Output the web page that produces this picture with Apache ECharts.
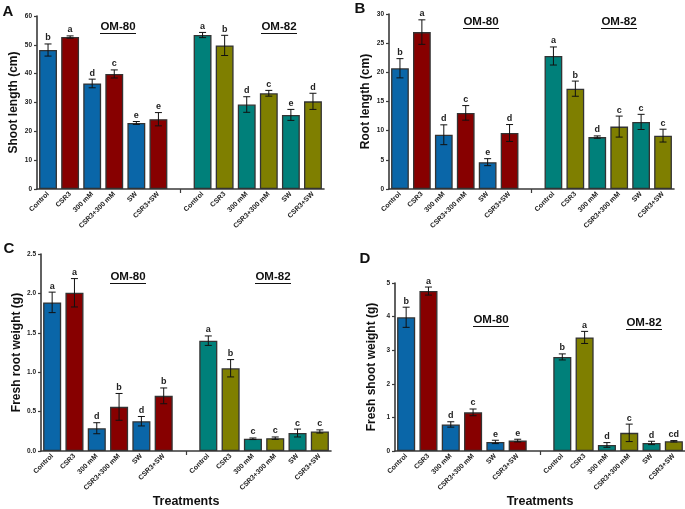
<!DOCTYPE html>
<html><head><meta charset="utf-8">
<script src="https://cdn.jsdelivr.net/npm/echarts@6/dist/echarts.min.js"></script>
<style>html,body{margin:0;padding:0;background:#fff}#c{width:685px;height:509px}</style>
</head><body><div id="c"></div>
<script>
// ---- data ----
var categories = ['Control','CSR3','300 mM','CSR3+300 mM','SW','CSR3+SW','','Control','CSR3','300 mM','CSR3+300 mM','SW','CSR3+SW'];
var shootLen     = [48.2, 52.7, 36.6, 39.9, 22.9, 24.2, null, 53.4, 49.8, 29.3, 33.2, 25.7, 30.4];
var shootLenErr  = [2.1, 0.4, 1.5, 1.4, 0.5, 2.3, null, 0.9, 3.5, 2.7, 1.0, 1.9, 2.8];
var shootLenLet  = ['b','a','d','c','e','e','', 'a','b','d','c','e','d'];
var rootLen      = [20.7, 26.9, 9.3, 13.05, 4.6, 9.6, null, 22.8, 17.2, 8.9, 10.7, 11.5, 9.15];
var rootLenErr   = [1.65, 2.1, 1.7, 1.25, 0.6, 1.45, null, 1.55, 1.3, 0.2, 1.8, 1.3, 1.1];
var rootLenLet   = ['b','a','d','c','e','d','', 'a','b','d','c','c','c'];
var rootWt       = [1.886, 2.008, 0.289, 0.56, 0.378, 0.70, null, 1.40, 1.05, 0.155, 0.163, 0.228, 0.248];
var rootWtErr    = [0.13, 0.18, 0.07, 0.17, 0.06, 0.10, null, 0.06, 0.11, 0.01, 0.015, 0.05, 0.02];
var rootWtLet    = ['a','a','d','b','d','b','', 'a','b','c','c','c','c'];
var shootWt      = [3.98, 4.76, 0.79, 1.15, 0.27, 0.31, null, 2.80, 3.38, 0.18, 0.54, 0.24, 0.29];
var shootWtErr   = [0.30, 0.12, 0.08, 0.10, 0.05, 0.04, null, 0.09, 0.18, 0.07, 0.26, 0.05, 0.02];
var shootWtLet   = ['b','a','d','c','e','e','', 'b','a','d','c','d','cd'];
var groupTitles  = ['OM-80','OM-82'];
var panelLetters = ['A','B','C','D'];
var yNames       = ['Shoot length (cm)','Root length (cm)','Fresh root weight (g)','Fresh shoot weight (g)'];
var xName        = 'Treatments';

// ---- style ----
var barColors = ['#0a66a8','#870000','#0a66a8','#870000','#0a66a8','#870000','#fff','#00807a','#7f7f00','#00807a','#7f7f00','#00807a','#7f7f00'];
var FONT = '"Liberation Sans", Arial, sans-serif';
var AX = '#3a3a3a';

var panels = [
  {vals: shootLen, errs: shootLenErr, lets: shootLenLet, max: 60, interval: 10, dec: 0,
   grid: {left: 37, right: 685-324, top: 16, bottom: 509-189}, nameGap: 17, showX: false},
  {vals: rootLen, errs: rootLenErr, lets: rootLenLet, max: 30, interval: 5, dec: 0,
   grid: {left: 389, right: 685-674, top: 14, bottom: 509-189}, nameGap: 17, showX: false},
  {vals: rootWt, errs: rootWtErr, lets: rootWtLet, max: 2.5, interval: 0.5, dec: 1,
   grid: {left: 41, right: 685-331, top: 254, bottom: 509-459}, nameGap: 18, showX: true},
  {vals: shootWt, errs: shootWtErr, lets: shootWtLet, max: 5, interval: 1, dec: 0,
   grid: {left: 395, right: 0, top: 283, bottom: 509-457}, nameGap: 17, showX: true}
];

var grids = [], xAxes = [], yAxes = [], series = [];
panels.forEach(function(p, i) {
  grids.push(p.grid);
  xAxes.push({
    type: 'category', gridIndex: i, data: categories,
    name: p.showX ? xName : '', nameLocation: 'middle', nameGap: 44,
    nameTextStyle: {fontFamily: FONT, fontWeight: 'bold', fontSize: 12.5, color: '#111'},
    axisLine: {lineStyle: {color: AX, width: 1.6}},
    axisTick: {show: true, alignWithLabel: true, length: 4, interval: function(idx) { return idx === 6; }, lineStyle: {color: AX, width: 1.2}},
    axisLabel: {interval: 0, rotate: 45, margin: 4, fontFamily: FONT, fontSize: 7, color: '#222', fontWeight: 'bold'}
  });
  yAxes.push({
    type: 'value', gridIndex: i, min: 0, max: p.max, interval: p.interval,
    name: yNames[i], nameLocation: 'middle', nameGap: p.nameGap,
    nameTextStyle: {fontFamily: FONT, fontWeight: 'bold', fontSize: 12, color: '#111'},
    splitLine: {show: false},
    axisLine: {show: true, lineStyle: {color: AX, width: 1.6}},
    axisTick: {show: true, length: 3, lineStyle: {color: AX, width: 1.2}},
    axisLabel: {margin: 5, fontFamily: FONT, fontSize: 6.5, fontWeight: 'bold', color: '#222',
      formatter: function(v) { return v.toFixed(p.dec); }}
  });
  series.push({
    type: 'bar', xAxisIndex: i, yAxisIndex: i, barCategoryGap: '19%',
    data: p.vals.map(function(v, k) {
      return {value: v, itemStyle: {color: barColors[k], borderColor: '#333', borderWidth: 1.3}};
    })
  });
  var ebData = [];
  p.vals.forEach(function(v, k) { if (v != null) ebData.push([k, v, p.errs[k], k]); });
  series.push({
    type: 'custom', xAxisIndex: i, yAxisIndex: i, z: 5,
    data: ebData,
    renderItem: function(params, api) {
      var x = api.value(0), v = api.value(1), e = api.value(2), k = api.value(3);
      var t = api.coord([x, v + e]), b = api.coord([x, v - e]);
      var h = 3.5;
      var st = {stroke: '#111', lineWidth: 1};
      return {type: 'group', children: [
        {type: 'line', shape: {x1: t[0], y1: t[1], x2: b[0], y2: b[1]}, style: st},
        {type: 'line', shape: {x1: t[0]-h, y1: t[1], x2: t[0]+h, y2: t[1]}, style: st},
        {type: 'line', shape: {x1: b[0]-h, y1: b[1], x2: b[0]+h, y2: b[1]}, style: st},
        {type: 'text', x: t[0], y: t[1] - 1.5, style: {text: p.lets[k], textAlign: 'center', textVerticalAlign: 'bottom',
          font: 'bold 9px ' + FONT, fill: '#222'}}
      ]};
    }
  });
});

// titles and panel letters (annotation text)
var titlePos = [
  [[118, 27], [279, 27]],
  [[481, 22], [619, 22]],
  [[128, 277], [273, 277]],
  [[491, 320], [644, 323]]
];
var letterPos = [[8, 12], [360, 9], [9, 249], [365, 259]];
var graphics = [];
titlePos.forEach(function(pp, i) {
  pp.forEach(function(pos, j) {
    graphics.push({type: 'text', x: pos[0], y: pos[1], style: {text: groupTitles[j], textAlign: 'center', textVerticalAlign: 'middle',
      font: 'bold 11.5px ' + FONT, fill: '#111'}});
    graphics.push({type: 'line', shape: {x1: pos[0]-18, y1: pos[1]+6.5, x2: pos[0]+18, y2: pos[1]+6.5}, style: {stroke: '#111', lineWidth: 1.2}});
  });
  graphics.push({type: 'text', x: letterPos[i][0], y: letterPos[i][1], style: {text: panelLetters[i], textAlign: 'center', textVerticalAlign: 'middle',
    font: 'bold 15px ' + FONT, fill: '#111'}});
});

var chart = echarts.init(document.getElementById('c'), null, {renderer: 'canvas'});
chart.setOption({
  animation: false,
  grid: grids, xAxis: xAxes, yAxis: yAxes, series: series, graphic: graphics
});
</script></body></html>
